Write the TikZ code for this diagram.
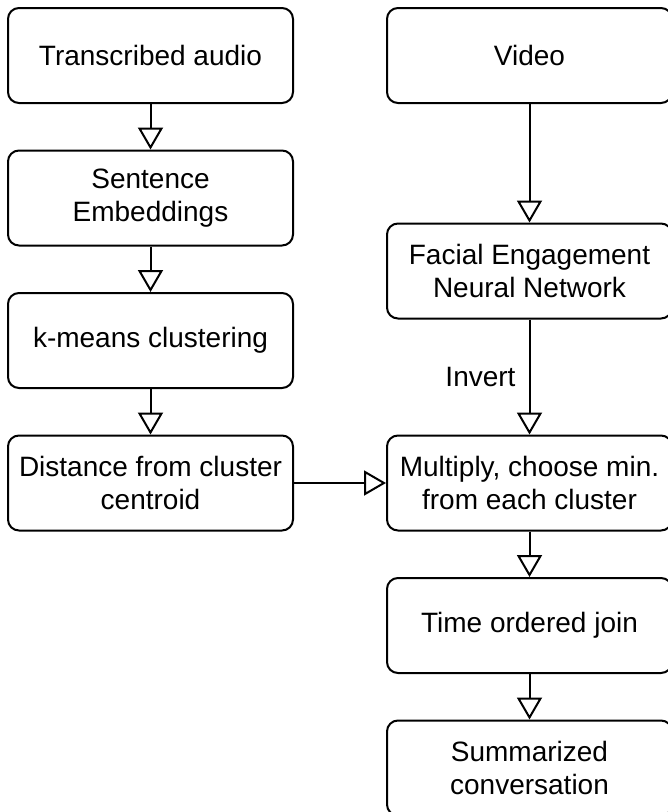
\documentclass[tikz,border=0pt]{standalone}
\usepackage{fontspec}
\setmainfont{Liberation Sans}
\usetikzlibrary{arrows.meta,positioning}

\begin{document}
\begin{tikzpicture}[x=1pt, y=1pt, node distance=45.5pt and 92pt,
    box/.style={rectangle, draw, rounded corners=11pt, line width=2pt, minimum width=285pt, minimum height=95pt, align=center, font=\fontsize{28}{32.5}\selectfont},
    flow/.style={line width=2pt, -{Triangle[open, length=22pt, width=25pt]}}]
    \useasboundingbox (0,0) rectangle (668,-812);
    \node[box] (audio) at (150.5,-55.5) {Transcribed audio};
    \node[box, below=of audio] (embed) {Sentence\\Embeddings};
    \node[box, below=of embed] (kmeans) {k-means clustering};
    \node[box, below=of kmeans] (dist) {Distance from cluster\\centroid};
    \node[box, right=of audio] (video) {Video};
    \node[box, right=of dist] (mult) {Multiply, choose min.\\from each cluster};
    \node[box, above=115pt of mult] (face) {Facial Engagement\\Neural Network};
    \node[box, below=of mult] (join) {Time ordered join};
    \node[box, below=of join] (summ) {Summarized\\conversation};
    
    \draw[flow] (audio) -- (embed);
    \draw[flow] (embed) -- (kmeans);
    \draw[flow] (kmeans) -- (dist);
    \draw[flow] (video) -- (face);
    \draw[flow] (face) -- node[left, inner sep=13pt, font=\fontsize{28}{32.5}\selectfont] {Invert} (mult);
    \draw[flow] (dist) -- (mult);
    \draw[flow] (mult) -- (join);
    \draw[flow] (join) -- (summ);
\end{tikzpicture}
\end{document}
